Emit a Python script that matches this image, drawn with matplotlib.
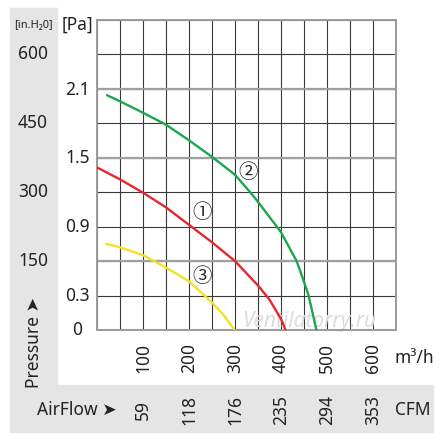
import numpy as np
import matplotlib
matplotlib.use('Agg')
import matplotlib.pyplot as plt
import matplotlib.transforms as mtransforms
from matplotlib.patches import Rectangle

# ---- data (m3/h, Pa) ----
curve1_flow = [0, 50, 100, 150, 200, 250, 300, 350, 375, 400, 410]
curve1_pa = [354, 328, 299, 267, 229, 191, 150, 97, 66, 24, 0]
curve2_flow = [20, 50, 100, 150, 200, 250, 300, 333, 350, 400, 434, 450, 460, 477]
curve2_pa = [512, 498, 473, 447, 413, 377, 338, 300, 279, 213, 150, 105, 75, 0]
curve3_flow = [18, 50, 100, 150, 180, 200, 224, 250, 275, 299]
curve3_pa = [188, 180, 163, 136, 118, 106, 84, 60, 33, 0]
curve_labels = ['①', '②', '③']
curve_colors = ['#e8262b', '#19a84a', '#f6e024']

pa_ticks = [600, 450, 300, 150]
inh2o_ticks = [2.1, 1.5, 0.9, 0.3, 0]
flow_ticks = [100, 200, 300, 400, 500, 600]
cfm_ticks = [59, 118, 176, 235, 294, 353]

W, H = 446, 441
fig = plt.figure(figsize=(W / 100, H / 100), dpi=100)
fig.patch.set_facecolor('white')
FONT = ['Noto Sans', 'DejaVu Sans']
FS = 12.5
TC = '#222222'

def fx(px):
    return px / W

def fy(py):
    return 1 - py / H

gray = '#e5e5e5'
fig.patches.append(Rectangle((fx(10), fy(385)), fx(57) - fx(10), fy(8) - fy(385),
                             transform=fig.transFigure, color=gray, zorder=0))
fig.patches.append(Rectangle((fx(10), fy(432)), fx(433) - fx(10), fy(385) - fy(432),
                             transform=fig.transFigure, color=gray, zorder=0))

ax = fig.add_axes([fx(97), fy(330), fx(396) - fx(97), fy(20) - fy(330)])
ax.set_xlim(0, 650)
ax.set_ylim(0, 675)
ax.set_xticks(np.arange(0, 651, 50))
ax.set_yticks(np.arange(0, 676, 75))
ax.tick_params(length=0, labelbottom=False, labelleft=False)
ax.grid(True, color='#3a3a3a', lw=0.8)
ax.set_axisbelow(True)
for yv in [150, 375, 525]:
    ax.axhline(yv, color='#a0a0a0', lw=1.6, zorder=1)
for s in ax.spines.values():
    s.set_color('#9a9a9a')
    s.set_linewidth(1.4)

ax.text(0.71, 0.028, 'Ventilatorry.ru', transform=ax.transAxes, ha='center', va='center',
        fontsize=15, style='italic', weight='bold', color='#dcdcdc', family=FONT, zorder=2)

flows = [curve1_flow, curve2_flow, curve3_flow]
pas = [curve1_pa, curve2_pa, curve3_pa]
label_pos = [(228, 255), (328, 343), (228, 117)]
for f, p, c, lab, lp in zip(flows, pas, curve_colors, curve_labels, label_pos):
    ax.plot(f, p, color=c, lw=1.7, zorder=3, solid_capstyle='butt', solid_joinstyle='round')
    ax.text(lp[0], lp[1], lab, ha='center', va='center', fontsize=14,
            family=['Noto Sans CJK JP', 'DejaVu Sans'], color=TC, zorder=4)

# y labels
tr_y = mtransforms.blended_transform_factory(fig.transFigure, ax.transData)
for v in pa_ticks:
    fig.text(fx(33), v, str(v), transform=tr_y, ha='center', va='center',
             fontsize=FS, family=FONT, color=TC)
for v in inh2o_ticks:
    fig.text(fx(77.5), v * 249, f'{v:g}', transform=tr_y, ha='center', va='center',
             fontsize=FS, family=FONT, color=TC)

fig.text(fx(33), fy(26), '[in.H₂0]', ha='center', va='center', fontsize=8,
         family=FONT, color=TC)
fig.text(fx(77.5), fy(25), '[Pa]', ha='center', va='center', fontsize=FS,
         family=FONT, color=TC)
fig.text(fx(34), fy(343), 'Pressure ➤', ha='center', va='center', rotation=90,
         fontsize=FS, family=FONT, color=TC)

# x labels
tr_x = mtransforms.blended_transform_factory(ax.transData, fig.transFigure)
for v in flow_ticks:
    fig.text(v, fy(358), str(v), transform=tr_x, ha='center', va='center',
             rotation=90, fontsize=FS, family=FONT, color=TC)
for v, c in zip(flow_ticks, cfm_ticks):
    fig.text(v, fy(410), str(c), transform=tr_x, ha='center', va='center',
             rotation=90, fontsize=FS, family=FONT, color=TC)
fig.text(fx(395), fy(358), 'm³/h', ha='left', va='center', fontsize=FS,
         family=FONT, color=TC)
fig.text(fx(395), fy(410), 'CFM', ha='left', va='center', fontsize=FS,
         family=FONT, color=TC)
fig.text(fx(37), fy(410), 'AirFlow ➤', ha='left', va='center', fontsize=FS,
         family=FONT, color=TC)

fig.savefig('out.png', dpi=100)
